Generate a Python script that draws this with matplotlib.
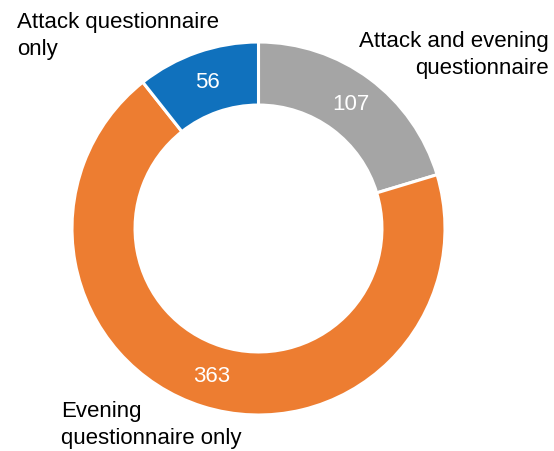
import matplotlib
matplotlib.use("Agg")
import matplotlib.pyplot as plt

plt.rcParams['font.family'] = ['Liberation Sans', 'DejaVu Sans']

# donut data, clockwise from 12 o'clock
labels = ["Attack and evening\nquestionnaire", "Evening\nquestionnaire only", "Attack questionnaire\nonly"]
counts = [107, 363, 56]
colors = ["#A5A5A5", "#ED7D31", "#1071BD"]

W, H = 554, 451
fig = plt.figure(figsize=(W / 100, H / 100), dpi=100)
ax = fig.add_axes([0, 0, 1, 1])

total = sum(counts)
cx, cy, R = 258.5, H - 228.5, 186.5   # pixel coords, y up

wedges, texts, autotexts = ax.pie(
    counts, colors=colors, startangle=90, counterclock=False,
    center=(cx, cy), radius=R,
    wedgeprops=dict(width=R * 0.338, edgecolor="white", linewidth=2.2),
    autopct=lambda p: "%d" % round(p * total / 100.0),
    pctdistance=0.83,
    textprops=dict(color="white", fontsize=16),
)

ax.set_xlim(0, W)
ax.set_ylim(0, H)
ax.set_aspect("equal")
ax.axis("off")

# category labels, placed by hand like the original (y = last line baseline)
ls = 1.4
ax.text(17, H - 55, labels[2], ha="left", va="baseline", fontsize=16,
        linespacing=ls, color="black")
ax.text(549, H - 74, labels[0], ha="right", va="baseline", fontsize=16,
        linespacing=ls, color="black", multialignment="right")
ax.text(61, H - 444, labels[1], ha="left", va="baseline", fontsize=16,
        linespacing=ls, color="black")

fig.savefig("out.png", dpi=100)
